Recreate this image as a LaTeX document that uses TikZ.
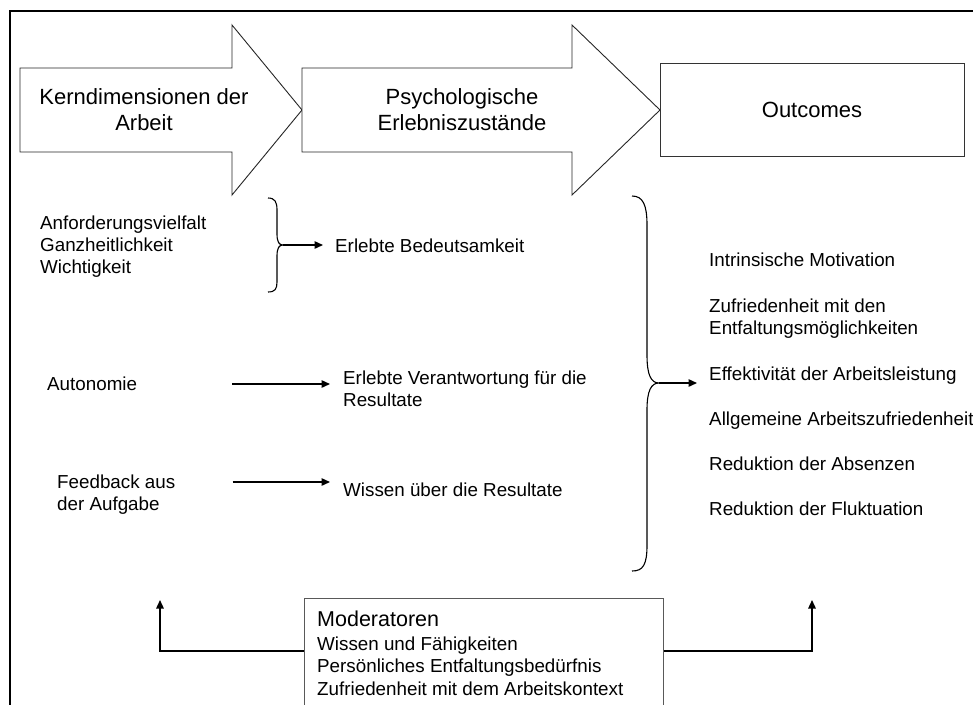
\documentclass[tikz,border=0pt]{standalone}
\usepackage{fontspec}
\setmainfont{Liberation Sans}
\usetikzlibrary{arrows.meta}
\begin{document}
\begin{tikzpicture}[x=1pt,y=-1pt,
  frame/.style={line width=1.8pt},
  bigarrow/.style={draw=black!85,line width=0.9pt,fill=white,line join=miter},
  box/.style={draw=black!80,line width=0.9pt,fill=white},
  conn/.style={line width=1.4pt,-{Triangle[length=8.5pt,width=7.5pt]}},
  bracket/.style={line width=1.1pt},
  title/.style={font=\fontsize{22}{26}\selectfont,inner sep=0pt,align=center},
  body/.style={font=\fontsize{18.8}{22}\selectfont,inner sep=0pt,align=left,anchor=west},
]
\useasboundingbox (0,0) rectangle (973,704);
\clip (0,0) rectangle (973,704);

% outer frame
\draw[frame] (973,11) -- (10,11) -- (10,710);

% the two block arrows and the outcome box
\draw[bigarrow] (20,68) -- (232,68) -- (232,25) -- (302,110) -- (232,195) -- (232,152) -- (20,152) -- cycle;
\draw[bigarrow] (302,68) -- (572,68) -- (572,25) -- (660,110) -- (572,195) -- (572,152) -- (302,152) -- cycle;
\draw[box] (660,63) rectangle (964,156);

\node[title] (kern) at (144,110) {Kerndimensionen der\\Arbeit};
\node[title] (psy) at (462,110) {Psychologische\\Erlebniszustände};
\node[title] (outc) at (812,110) {Outcomes};

% core job dimensions
\node[body] (anf) at (40,247) {Anforderungsvielfalt\\Ganzheitlichkeit\\Wichtigkeit};
\node[body] (auto) at (47,384) {Autonomie};
\node[body] (feed) at (57,495) {Feedback aus\\der Aufgabe};

% psychological states
\node[body] (bed) at (335,246) {Erlebte Bedeutsamkeit};
\node[body] (verant) at (343,389) {Erlebte Verantwortung für die\\Resultate};
\node[body] (wissen) at (343,490) {Wissen über die Resultate};

% outcomes
\node[body] (outs) at (709,384) {Intrinsische Motivation\\[24pt]
  Zufriedenheit mit den\\Entfaltungsmöglichkeiten\\[24pt]
  Effektivität der Arbeitsleistung\\[23pt]
  Allgemeine Arbeitszufriedenheit\\[23pt]
  Reduktion der Absenzen\\[23pt]
  Reduktion der Fluktuation};

% braces
\draw[bracket] (268,198) .. controls (275,198) and (277,202) .. (277,210) -- (277,234)
  .. controls (277,242) and (279,245) .. (283,245)
  .. controls (279,245) and (277,248) .. (277,256) -- (277,282)
  .. controls (277,289) and (275,292) .. (268,292);
\coordinate (b1) at (283,245);

\draw[bracket] (632,196) .. controls (643,196) and (647,205) .. (647,225) -- (647,355)
  .. controls (647,375) and (651,383) .. (659,383)
  .. controls (651,383) and (647,391) .. (647,410) -- (647,545)
  .. controls (647,565) and (643,571) .. (632,571);
\coordinate (b2) at (659,383);

% connectors
\draw[conn,shorten >=12pt] (b1) -- (bed.west |- b1);
\draw[conn,shorten <=95pt,shorten >=13pt] (auto.east) -- (verant.west |- auto.east);
\draw[conn,shorten <=57pt,shorten >=13pt] ([yshift=13pt]feed.east) -- ([yshift=8pt]wissen.west);
\draw[conn,shorten >=12pt] (b2) -- (outs.west |- b2);

% moderators
\node[box,draw=black!65,minimum width=359pt,minimum height=130pt,anchor=north west,inner sep=0pt] (mod) at (304,598) {};
\node[font=\fontsize{21.5}{26}\selectfont,inner sep=0pt,anchor=west] (modt) at (317,619) {Moderatoren};
\node[body,font=\fontsize{18.8}{22.5}\selectfont] (modi) at (317,666) {Wissen und Fähigkeiten\\Persönliches Entfaltungsbedürfnis\\Zufriedenheit mit dem Arbeitskontext};
\coordinate (upL) at (160,600);
\coordinate (upR) at (812,600);
\draw[conn] (mod.west |- 0,651) -| (upL);
\draw[conn] (mod.east |- 0,651) -| (upR);
\end{tikzpicture}
\end{document}
